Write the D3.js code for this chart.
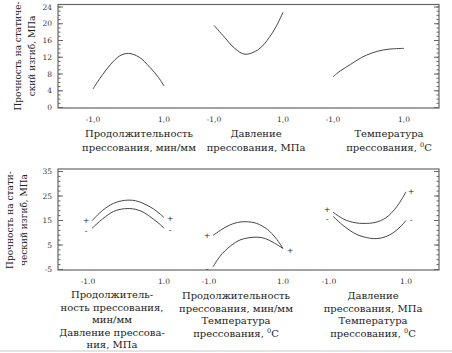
<!DOCTYPE html>
<html>
<head>
<meta charset="utf-8">
<script src="https://cdn.jsdelivr.net/npm/d3@7"></script>
<style>
  body { margin: 0; background: #fff; }
</style>
</head>
<body>
<script>
// top row: single curves (x coded -1..1, strength MPa)
const topX1 = [-1, -0.8, -0.5, -0.25, 0, 0.3, 0.6, 0.85, 1];
const topY1 = [4.3, 6.9, 10.2, 12.2, 12.8, 11.9, 9.5, 7.0, 5.0];
const topX2 = [-1, -0.7, -0.4, -0.1, 0.3, 0.6, 0.8, 1];
const topY2 = [19.5, 16.7, 14.0, 12.6, 13.8, 16.6, 19.2, 22.6];
const topX3 = [-1, -0.8, -0.5, -0.2, 0.1, 0.4, 0.7, 1];
const topY3 = [7.2, 8.6, 10.2, 11.8, 12.9, 13.6, 13.9, 14.0];

// bottom row: pairs of curves (+ / -)
const botX1 = [-1, -0.7, -0.4, -0.1, 0.2, 0.45, 0.7, 0.9, 1];
const botY1plus = [14.7, 19.0, 21.8, 23.0, 22.9, 21.6, 19.6, 17.3, 16.0];
const botY1minus = [11.6, 15.5, 18.5, 19.6, 19.4, 18.0, 15.4, 13.1, 11.6];
const botX2plus = [-1, -0.6, -0.3, -0.05, 0.25, 0.55, 0.8, 1];
const botY2plus = [8.7, 12.4, 14.0, 14.3, 13.6, 11.2, 7.5, 3.4];
const botX2minus = [-1, -0.8, -0.5, -0.2, 0.25, 0.5, 0.75, 1];
const botY2minus = [-4.2, 0.2, 4.4, 7.0, 8.0, 7.4, 5.6, 3.4];
const botX3plus = [-1, -0.7, -0.4, -0.15, 0.15, 0.45, 0.75, 1];
const botY3plus = [18.2, 15.3, 13.9, 13.6, 14.0, 15.9, 20.5, 26.5];
const botX3minus = [-1, -0.7, -0.35, 0, 0.2, 0.45, 0.65, 0.85, 1];
const botY3minus = [16.5, 12.5, 9.1, 7.6, 7.4, 8.2, 9.8, 12.3, 14.8];

const topTicks = [0, 4, 8, 12, 16, 20, 24];
const botTicks = [-5, 5, 15, 25, 35];
const topXLabels = ["-1,0", "1,0"];
const botXLabels = ["-1.0", "1.0"];

const FONT = "'DejaVu Serif', serif";

const w = 452, h = 353;
const svg = d3.select("body").append("svg")
  .attr("width", w).attr("height", h)
  .style("font-family", FONT);

// faint page edge at the bottom
svg.append("line").attr("x1", 0).attr("x2", w).attr("y1", 351).attr("y2", 351)
  .attr("stroke", "#e4e4e4").attr("stroke-width", 2);

const left = 58, right = 439;

const yTop = d3.scaleLinear().domain([0, 24]).range([107, 6.5]);
const yBot = d3.scaleLinear().domain([-5, 35]).range([269, 171]);

const xTop = [
  d3.scaleLinear().domain([-1, 1]).range([93, 164]),
  d3.scaleLinear().domain([-1, 1]).range([214, 283]),
  d3.scaleLinear().domain([-1, 1]).range([333, 404])
];
const xBot = [
  d3.scaleLinear().domain([-1, 1]).range([92, 164]),
  d3.scaleLinear().domain([-1, 1]).range([213, 283]),
  d3.scaleLinear().domain([-1, 1]).range([333, 406])
];

const drawFrame = (y0, y1, yScale, major, minorStep) => {
  svg.append("rect")
    .attr("x", left).attr("y", y0)
    .attr("width", right - left).attr("height", y1 - y0)
    .attr("fill", "none").attr("stroke", "#666").attr("stroke-width", 1.2);

  const [d0, d1] = yScale.domain();
  const minor = d3.range(d0, d1 + 0.001, minorStep);

  // left axis, ticks inside
  svg.append("g").attr("transform", `translate(${left},0)`)
    .call(d3.axisRight(yScale).tickValues(minor).tickSize(2.5).tickFormat(""));
  svg.append("g").attr("transform", `translate(${left},0)`)
    .call(d3.axisRight(yScale).tickValues(major).tickSize(5).tickFormat(""));
  // right axis
  svg.append("g").attr("transform", `translate(${right},0)`)
    .call(d3.axisLeft(yScale).tickValues(minor).tickSize(2.5).tickFormat(""));
  svg.append("g").attr("transform", `translate(${right},0)`)
    .call(d3.axisLeft(yScale).tickValues(major).tickSize(5).tickFormat(""));

  svg.selectAll(".domain").remove();
  svg.selectAll(".tick line").attr("stroke", "#666");

  svg.append("g").selectAll("text")
    .data(major).enter().append("text")
    .attr("x", left - 6).attr("y", d => yScale(d) + 3)
    .attr("text-anchor", "end")
    .attr("font-size", 7.5)
    .attr("fill", "#333")
    .text(d => d);
};

drawFrame(4.5, 108, yTop, topTicks, 1);
drawFrame(169, 270, yBot, botTicks, 2);

const line = (xs, ys, xs_, ys_) => {
  const pts = xs.map((x, i) => [xs_(x), ys_(ys[i])]);
  svg.append("path")
    .attr("d", d3.line().curve(d3.curveCatmullRom)(pts))
    .attr("fill", "none").attr("stroke", "#444").attr("stroke-width", 1);
};

line(topX1, topY1, xTop[0], yTop);
line(topX2, topY2, xTop[1], yTop);
line(topX3, topY3, xTop[2], yTop);

line(botX1, botY1plus, xBot[0], yBot);
line(botX1, botY1minus, xBot[0], yBot);
line(botX2plus, botY2plus, xBot[1], yBot);
line(botX2minus, botY2minus, xBot[1], yBot);
line(botX3plus, botY3plus, xBot[2], yBot);
line(botX3minus, botY3minus, xBot[2], yBot);

// x tick labels
xTop.forEach(s => {
  [-1, 1].forEach((v, i) => {
    svg.append("text").attr("x", s(v)).attr("y", 122)
      .attr("text-anchor", "middle").attr("font-size", 7.5).attr("fill", "#333")
      .text(topXLabels[i]);
  });
});
xBot.forEach(s => {
  [-1, 1].forEach((v, i) => {
    svg.append("text").attr("x", s(v) - (i == 0 ? 4 : 0)).attr("y", 284)
      .attr("text-anchor", "middle").attr("font-size", 7.5).attr("fill", "#333")
      .text(botXLabels[i]);
  });
});

// +/- markers at curve ends
const marks = [
  [xBot[0](-1) - 6, yBot(botY1plus[0]) - 1, "+"],
  [xBot[0](-1) - 6, yBot(botY1minus[0]) + 3, "-"],
  [xBot[0](1) + 6, yBot(botY1plus[8]), "+"],
  [xBot[0](1) + 6, yBot(botY1minus[8]) + 2, "-"],
  [xBot[1](-1) - 6, yBot(botY2plus[0]), "+"],
  [xBot[1](-1) - 6, yBot(botY2minus[0]) + 2, "-"],
  [xBot[1](1) + 7, yBot(botY2plus[7]) + 2, "+"],
  [xBot[2](-1) - 6, yBot(botY3plus[0]) - 3, "+"],
  [xBot[2](-1) - 6, yBot(botY3minus[0]) + 3, "-"],
  [xBot[2](1) + 5, yBot(botY3plus[7]) - 1, "+"],
  [xBot[2](1) + 5, yBot(botY3minus[8]), "-"]
];
svg.append("g").selectAll("text").data(marks).enter().append("text")
  .attr("x", d => d[0]).attr("y", d => d[1] + 3)
  .attr("text-anchor", "middle").attr("font-size", 8).attr("fill", "#222")
  .text(d => d[2]);

// axis titles (rotated)
const yTitle = (cx, cy, lines) => {
  const t = svg.append("text")
    .attr("transform", `translate(${cx},${cy}) rotate(-90)`)
    .attr("text-anchor", "middle").attr("font-size", 9).attr("fill", "#222");
  lines.forEach((l, i) => {
    t.append("tspan").attr("x", 0).attr("dy", i == 0 ? 0 : 14).text(l);
  });
};
yTitle(21, 56, ["Прочность на статиче-", "ский изгиб, МПа"]);
yTitle(13, 220, ["Прочность на стати-", "ческий изгиб, МПа"]);

// category labels
const catLabel = (cx, y0, lines, step) => {
  const t = svg.append("text").attr("text-anchor", "middle")
    .attr("font-size", 10).attr("fill", "#222");
  lines.forEach((l, i) => {
    const ts = t.append("tspan").attr("x", cx).attr("y", y0 + i * step);
    if (l.endsWith("0C")) {
      ts.text(l.slice(0, -2));
      ts.append("tspan").attr("font-size", 6.5).attr("dy", -4).text("0");
      ts.append("tspan").attr("dy", 4).text("C");
    } else {
      ts.text(l);
    }
  });
};
catLabel(139, 137, ["Продолжительность", "прессования, мин/мм"], 13.5);
catLabel(256, 137, ["Давление", "прессования, МПа"], 13.5);
catLabel(389, 137, ["Температура", "прессования, 0C"], 13.5);

catLabel(112, 298, ["Продолжитель-", "ность прессования,", "мин/мм", "Давление прессова-", "ния, МПа"], 12.5);
catLabel(236, 299, ["Продолжительность", "прессования, мин/мм", "Температура", "прессования, 0C"], 12.5);
catLabel(373, 299, ["Давление", "прессования, МПа", "Температура", "прессования, 0C"], 12.5);
</script>
</body>
</html>
